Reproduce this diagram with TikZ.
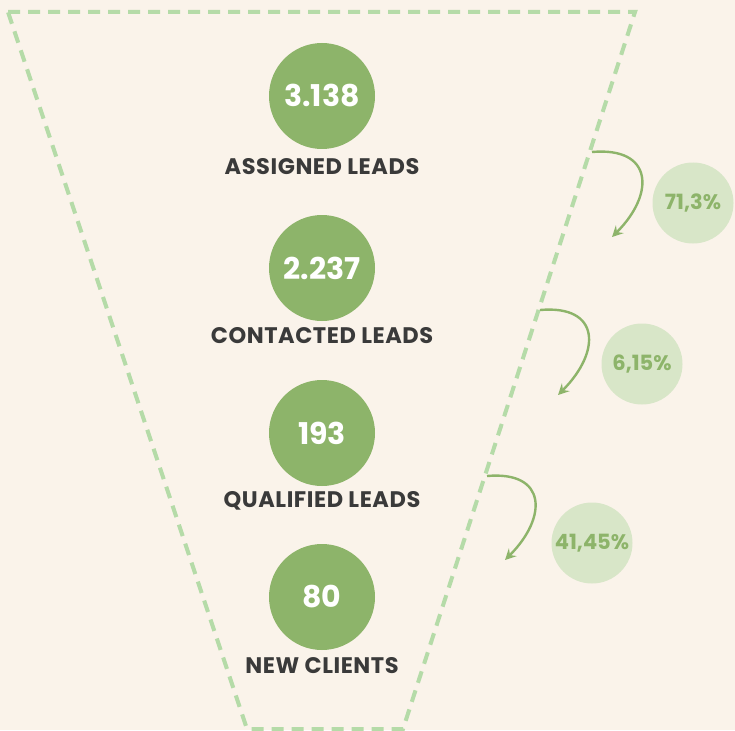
\documentclass[tikz,border=0pt]{standalone}
\usepackage{fontspec}
\setmainfont{Poppins}
\usetikzlibrary{arrows.meta}
\definecolor{paper}{HTML}{FAF3EA}
\definecolor{funnel}{HTML}{B5DBA8}
\definecolor{leaf}{HTML}{8DB46A}
\definecolor{pale}{HTML}{D8E6C8}
\definecolor{ink}{HTML}{3A3A3A}
\begin{document}
\begin{tikzpicture}[
  x=1pt, y=1pt,
  >={Stealth[length=11pt,width=11pt,inset=4pt]},
  stage/.style = {
    circle, fill=leaf, minimum size=\stagew,
    inner sep=0pt, text=white,
    font=\fontsize{30}{30}\selectfont\bfseries
  },
  caption/.style = {text=ink, font=\addfontfeatures{LetterSpace=2.5}\fontsize{22.5}{22.5}\selectfont\bfseries},
  rate/.style  = {
    circle, fill=pale, minimum size=\ratew,
    inner sep=0pt, text=leaf,
    font=\fontsize{21}{21}\selectfont\bfseries
  },
  hop/.style   = {->, draw=leaf, line width=2.4pt}
]

% ---- constants ----
\def\stagew{106pt}   % diameter of a stage circle
\def\ratew{81pt}     % diameter of a rate circle

% ---- background ----
\fill[paper] (0,0) rectangle (735,-730);
\useasboundingbox (0,0) rectangle (735,-730);

% ---- funnel outline ----
\coordinate (tl) at (8,-12);
\coordinate (tr) at (635,-12);
\coordinate (br) at (403,-729);
\coordinate (bl) at (247,-729);
\draw[funnel, line width=4pt, dash pattern=on 12pt off 8pt]
  (tl) -- (tr) -- (br) -- (bl) -- cycle;

% ---- stages ----
\node[stage] (assigned)  at (322,-96)  {3.138};
\node[caption] (assignedlbl)  at (322,-167) {ASSIGNED LEADS};

\node[stage] (contacted) at (322,-268) {2.237};
\node[caption] (contactedlbl) at (322,-336) {CONTACTED LEADS};

\node[stage] (qualified) at (322,-433) {193};
\node[caption] (qualifiedlbl) at (322,-501) {QUALIFIED LEADS};

\node[stage] (clients)   at (322,-597) {80};
\node[caption] (clientslbl)   at (322,-666) {NEW CLIENTS};

% ---- conversion rates ----
\node[rate] (rateA) at (693,-203) {71,3\%};
\node[rate] (rateB) at (642,-364) {6,15\%};
\node[rate] (rateC) at (592,-543) {41,45\%};

% ---- arrows ----
\coordinate (hopAs) at (592,-152);
\coordinate (hopAe) at (612,-237);
\coordinate (hopBs) at (540,-310);
\coordinate (hopBe) at (558,-395);
\coordinate (hopCs) at (487,-476);
\coordinate (hopCe) at (505,-560);

\draw[hop] (hopAs) to[out=5,in=45,looseness=1.8] (hopAe);
\draw[hop] (hopBs) to[out=5,in=45,looseness=1.8] (hopBe);
\draw[hop] (hopCs) to[out=5,in=45,looseness=1.8] (hopCe);

\end{tikzpicture}
\end{document}
